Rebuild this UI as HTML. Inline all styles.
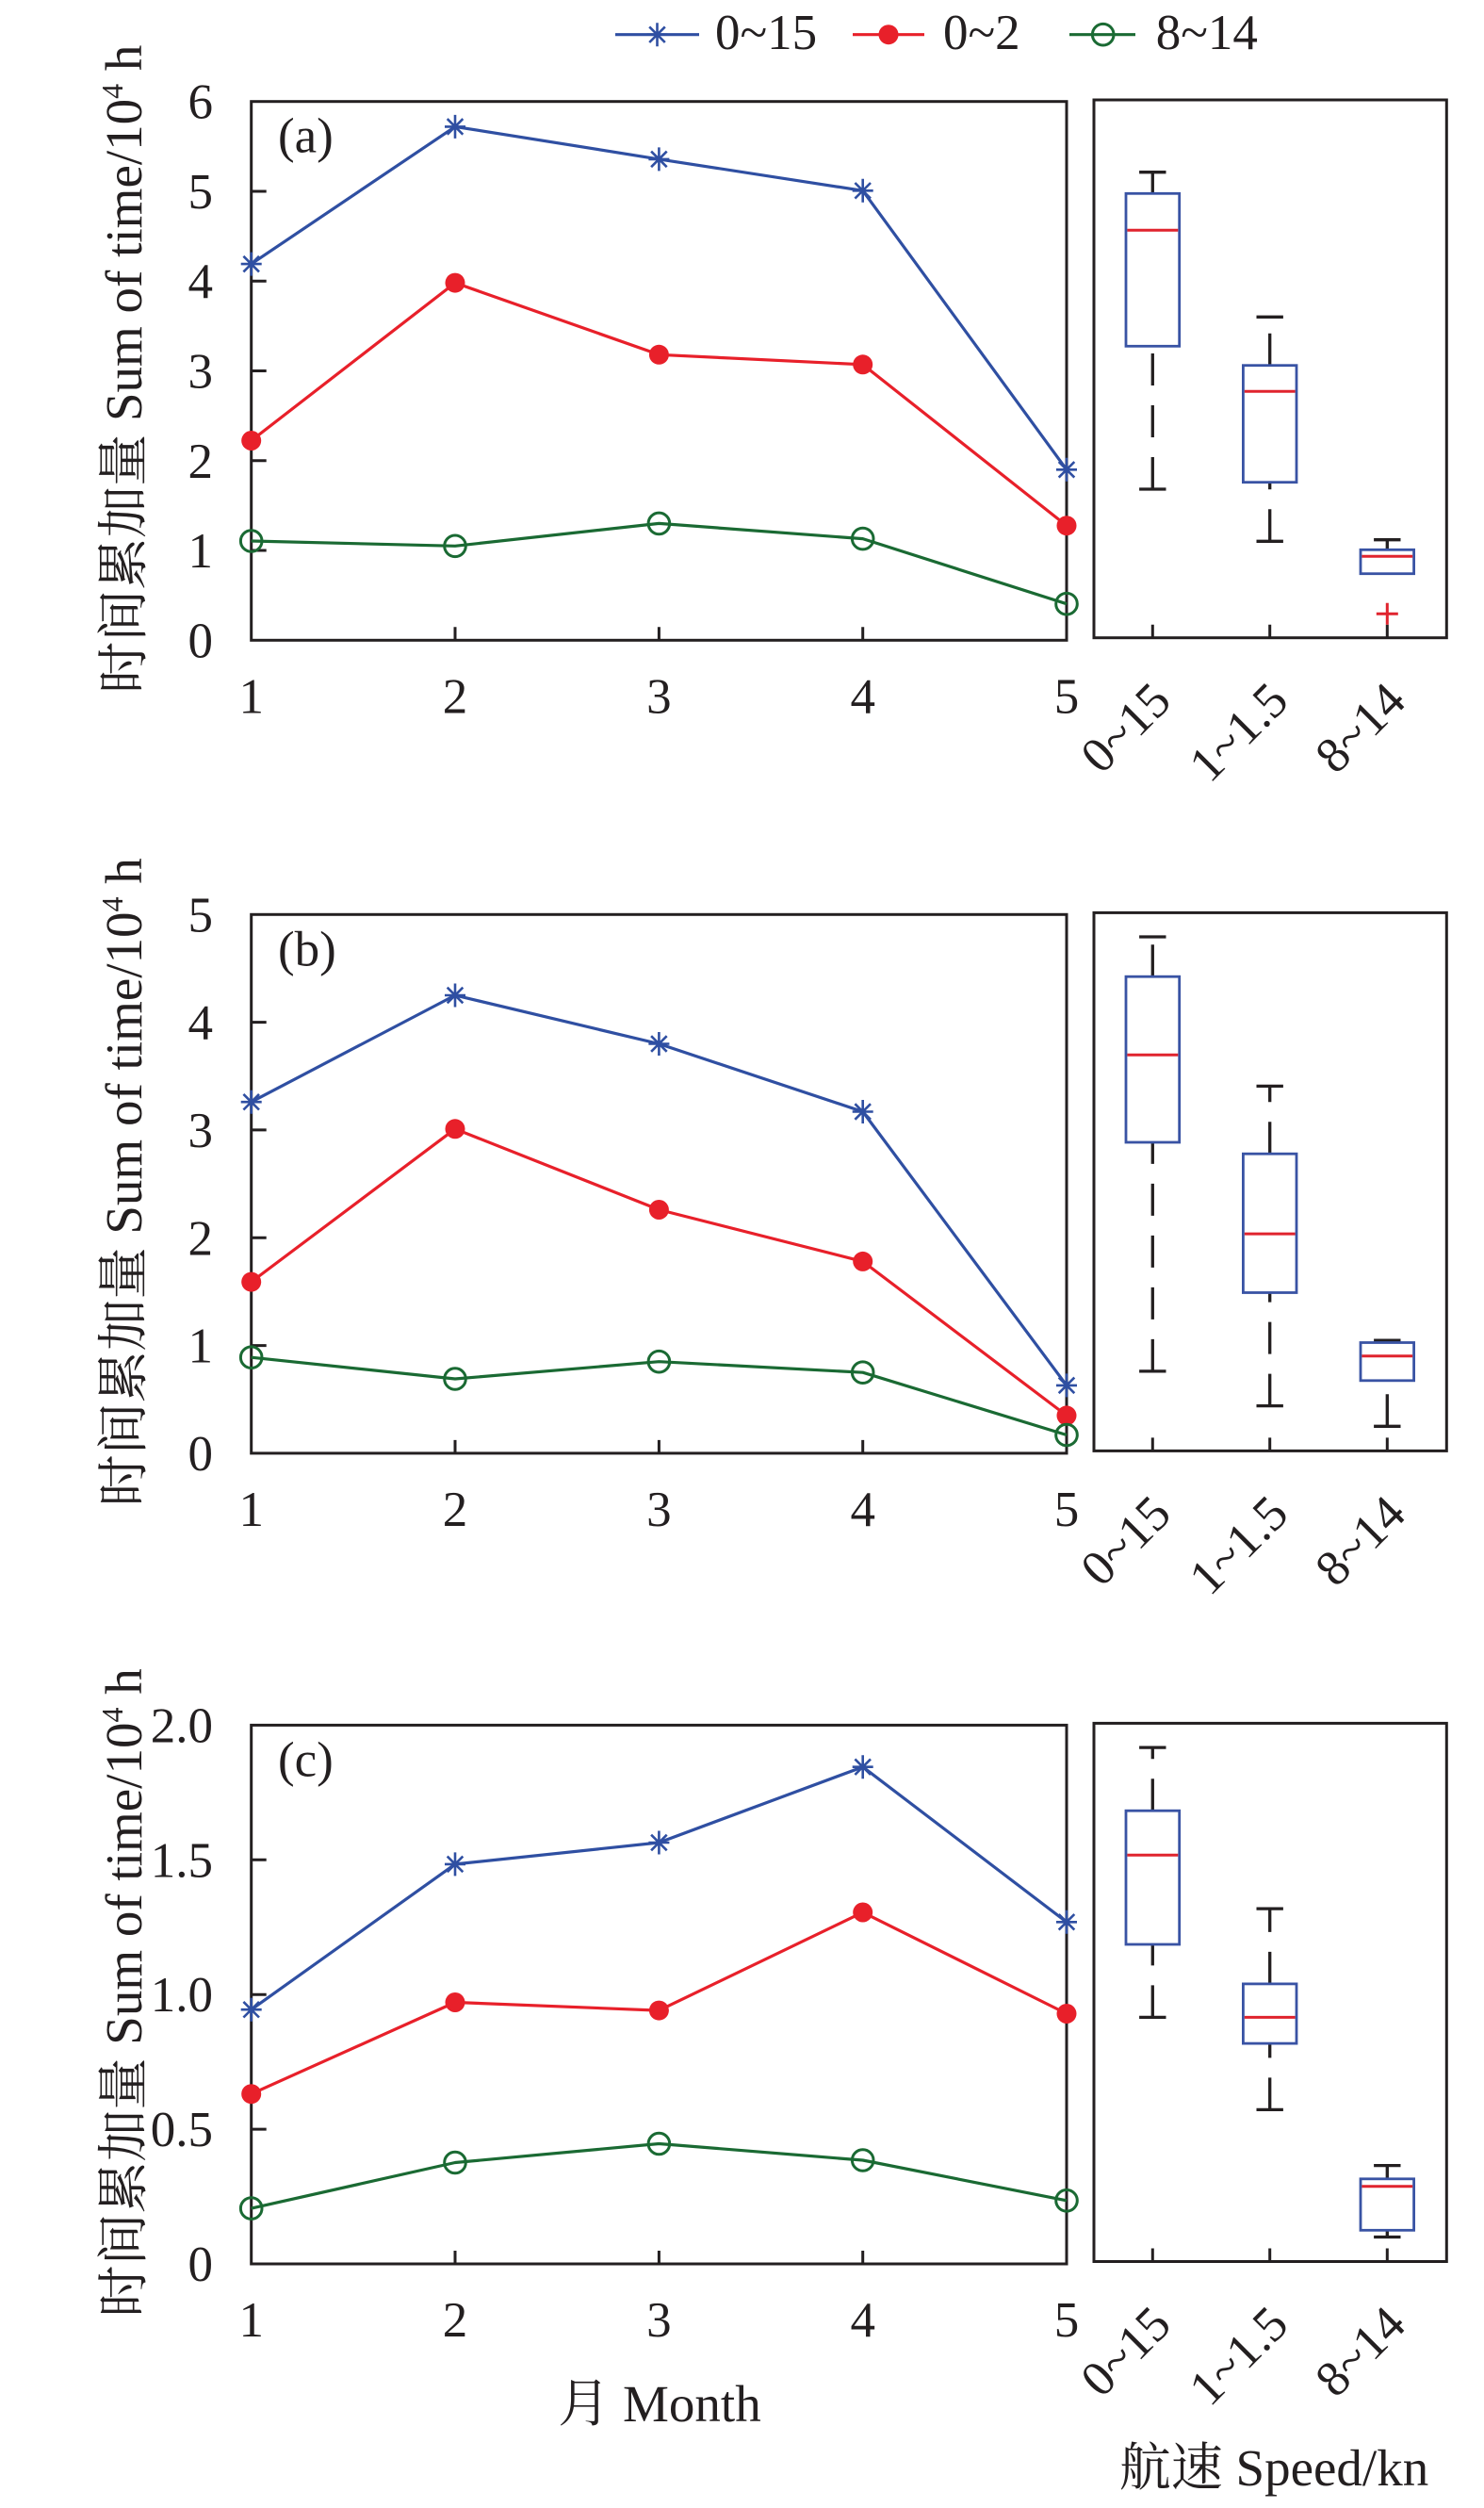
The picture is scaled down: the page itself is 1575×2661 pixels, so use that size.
<!DOCTYPE html>
<html><head><meta charset="utf-8"><style>html,body{margin:0;padding:0;background:#fff}svg{display:block}</style></head><body>
<svg xmlns="http://www.w3.org/2000/svg" width="1575" height="2661" viewBox="0 0 1575 2661" font-family="'Liberation Serif','Noto Serif CJK SC',serif" fill="#231f20">
<defs>
<g id="st"><path d="M0,-12.5V12.5M-11,0H11M-8.3,-8.3L8.3,8.3M-8.3,8.3L8.3,-8.3" stroke="#2f4fa2" stroke-width="2.6" fill="none"/></g>
<circle id="rd" r="10.5" fill="#e8202a"/>
<circle id="gc" r="11.3" fill="none" stroke="#1a6a33" stroke-width="3"/>
</defs>

<!-- Legend -->
<g font-size="53">
<line x1="653" y1="36.7" x2="742" y2="36.7" stroke="#2f4fa2" stroke-width="3.2"/>
<use href="#st" x="697.5" y="36.7"/>
<text x="759" y="52">0~15</text>
<line x1="905" y1="36.7" x2="981" y2="36.7" stroke="#e8202a" stroke-width="3.2"/>
<use href="#rd" x="943" y="36.7"/>
<text x="1001" y="52">0~2</text>
<line x1="1135" y1="36.7" x2="1205" y2="36.7" stroke="#1a6a33" stroke-width="3.2"/>
<use href="#gc" x="1170.7" y="36.7"/>
<text x="1226.7" y="52">8~14</text>
</g>

<!-- ================= Panel (a) ================= -->
<g stroke="#231f20" stroke-width="3" fill="none">
<rect x="266.7" y="107.7" width="865.3" height="571.6"/>
<path d="M266.7,584H282.7M266.7,488.8H282.7M266.7,393.5H282.7M266.7,298.2H282.7M266.7,203H282.7M483,679.3V665.3M699.4,679.3V665.3M915.7,679.3V665.3"/>
<rect x="1161" y="106" width="374.3" height="570.7"/>
<path d="M1223.3,676.7V662.7M1347.7,676.7V662.7M1472.3,676.7V662.7"/>
</g>
<g font-size="53" text-anchor="end">
<text x="226" y="697.3">0</text><text x="226" y="602">1</text><text x="226" y="506.8">2</text><text x="226" y="411.5">3</text><text x="226" y="316.2">4</text><text x="226" y="221">5</text><text x="226" y="125.7">6</text>
</g>
<g font-size="53" text-anchor="middle">
<text x="266.7" y="756.3">1</text><text x="483" y="756.3">2</text><text x="699.4" y="756.3">3</text><text x="915.7" y="756.3">4</text><text x="1132" y="756.3">5</text>
</g>
<text x="295" y="161.7" font-size="53">(a)</text>
<text transform="translate(150,391.7) rotate(-90)" text-anchor="middle" font-size="55">时间累加量 Sum of time/10<tspan dy="-20" font-size="32">4</tspan><tspan dy="20"> h</tspan></text>
<g font-size="53" text-anchor="end">
<text transform="translate(1245.3,746.3) rotate(-45)">0~15</text>
<text transform="translate(1369.7,746.3) rotate(-45)">1~1.5</text>
<text transform="translate(1494.3,746.3) rotate(-45)">8~14</text>
</g>
<g fill="none" stroke-width="3.2" stroke-linejoin="round">
<path d="M266.7,280.1L483,134.4L699.4,168.9L915.7,202.3L1132,498.3" stroke="#2f4fa2"/>
<path d="M266.7,467.5L483,300.1L699.4,376.3L915.7,386.8L1132,557.7" stroke="#e8202a"/>
<path d="M266.7,574L483,579.3L699.4,555.4L915.7,571.6L1132,640.7" stroke="#1a6a33"/>
</g>
<use href="#st" x="266.7" y="280.1"/><use href="#st" x="483" y="134.4"/><use href="#st" x="699.4" y="168.9"/><use href="#st" x="915.7" y="202.3"/><use href="#st" x="1132" y="498.3"/>
<use href="#rd" x="266.7" y="467.5"/><use href="#rd" x="483" y="300.1"/><use href="#rd" x="699.4" y="376.3"/><use href="#rd" x="915.7" y="386.8"/><use href="#rd" x="1132" y="557.7"/>
<use href="#gc" x="266.7" y="574"/><use href="#gc" x="483" y="579.3"/><use href="#gc" x="699.4" y="555.4"/><use href="#gc" x="915.7" y="571.6"/><use href="#gc" x="1132" y="640.7"/>
<!-- boxes (a) -->
<g stroke="#231f20" stroke-width="3.3" fill="none">
<path d="M1223.3,519V367.3M1223.3,205.3V182.7M1347.7,574.3V511.7M1347.7,387.7V336.3M1472.3,583.3V572.7" stroke-dasharray="34 21"/>
<path d="M1209.1,182.7H1237.5M1209.1,519H1237.5M1333.5,336.3H1361.9M1333.5,574.3H1361.9M1458.1,572.7H1486.5"/>
</g>
<g stroke="#3953a4" stroke-width="2.8" fill="none">
<rect x="1195" y="205.3" width="56.7" height="162"/>
<rect x="1319.4" y="387.7" width="56.6" height="124"/>
<rect x="1444" y="583.3" width="56.6" height="25.4"/>
</g>
<g stroke="#e0242e" stroke-width="3" fill="none">
<path d="M1196.4,244.3H1250.3M1320.8,415.3H1374.6M1445.4,590.3H1499.2"/>
<path d="M1460.8,651.3H1483.8M1472.3,639.8V662.8"/>
</g>

<!-- ================= Panel (b) ================= -->
<g stroke="#231f20" stroke-width="3" fill="none">
<rect x="266.7" y="970.3" width="865.3" height="571.6"/>
<path d="M266.7,1427.6H282.7M266.7,1313.3H282.7M266.7,1198.9H282.7M266.7,1084.6H282.7M483,1541.9V1527.9M699.4,1541.9V1527.9M915.7,1541.9V1527.9"/>
<rect x="1161" y="968.4" width="374.3" height="571"/>
<path d="M1223.3,1539.4V1525.4M1347.7,1539.4V1525.4M1472.3,1539.4V1525.4"/>
</g>
<g font-size="53" text-anchor="end">
<text x="226" y="1559.9">0</text><text x="226" y="1445.6">1</text><text x="226" y="1331.3">2</text><text x="226" y="1216.9">3</text><text x="226" y="1102.6">4</text><text x="226" y="988.3">5</text>
</g>
<g font-size="53" text-anchor="middle">
<text x="266.7" y="1618.9">1</text><text x="483" y="1618.9">2</text><text x="699.4" y="1618.9">3</text><text x="915.7" y="1618.9">4</text><text x="1132" y="1618.9">5</text>
</g>
<text x="295" y="1024.3" font-size="53">(b)</text>
<text transform="translate(150,1254.3) rotate(-90)" text-anchor="middle" font-size="55">时间累加量 Sum of time/10<tspan dy="-20" font-size="32">4</tspan><tspan dy="20"> h</tspan></text>
<g font-size="53" text-anchor="end">
<text transform="translate(1245.3,1608.9) rotate(-45)">0~15</text>
<text transform="translate(1369.7,1608.9) rotate(-45)">1~1.5</text>
<text transform="translate(1494.3,1608.9) rotate(-45)">8~14</text>
</g>
<g fill="none" stroke-width="3.2" stroke-linejoin="round">
<path d="M266.7,1169.2L483,1056L699.4,1107.5L915.7,1179.5L1132,1469.9" stroke="#2f4fa2"/>
<path d="M266.7,1360.1L483,1197.8L699.4,1283.5L915.7,1338.4L1132,1501.9" stroke="#e8202a"/>
<path d="M266.7,1440.2L483,1463L699.4,1444.7L915.7,1456.2L1132,1522.5" stroke="#1a6a33"/>
</g>
<use href="#st" x="266.7" y="1169.2"/><use href="#st" x="483" y="1056"/><use href="#st" x="699.4" y="1107.5"/><use href="#st" x="915.7" y="1179.5"/><use href="#st" x="1132" y="1469.9"/>
<use href="#rd" x="266.7" y="1360.1"/><use href="#rd" x="483" y="1197.8"/><use href="#rd" x="699.4" y="1283.5"/><use href="#rd" x="915.7" y="1338.4"/><use href="#rd" x="1132" y="1501.9"/>
<use href="#gc" x="266.7" y="1440.2"/><use href="#gc" x="483" y="1463"/><use href="#gc" x="699.4" y="1444.7"/><use href="#gc" x="915.7" y="1456.2"/><use href="#gc" x="1132" y="1522.5"/>
<g stroke="#231f20" stroke-width="3.3" fill="none">
<path d="M1223.3,1454.9V1212M1223.3,1036.2V994M1347.7,1491.6V1371.5M1347.7,1224.2V1152.4M1472.3,1513.3V1464.8M1472.3,1424.5V1422.1" stroke-dasharray="34 21"/>
<path d="M1209.1,994H1237.5M1209.1,1454.9H1237.5M1333.5,1152.4H1361.9M1333.5,1491.6H1361.9M1458.1,1422.1H1486.5M1458.1,1513.3H1486.5"/>
</g>
<g stroke="#3953a4" stroke-width="2.8" fill="none">
<rect x="1195" y="1036.2" width="56.7" height="175.8"/>
<rect x="1319.4" y="1224.2" width="56.6" height="147.3"/>
<rect x="1444" y="1424.5" width="56.6" height="40.3"/>
</g>
<g stroke="#e0242e" stroke-width="3" fill="none">
<path d="M1196.4,1119.2H1250.3M1320.8,1309.1H1374.6M1445.4,1438.7H1499.2"/>
</g>

<!-- ================= Panel (c) ================= -->
<g stroke="#231f20" stroke-width="3" fill="none">
<rect x="266.7" y="1830.4" width="865.3" height="571.6"/>
<path d="M266.7,2259.1H282.7M266.7,2116.2H282.7M266.7,1973.3H282.7M483,2402V2388M699.4,2402V2388M915.7,2402V2388"/>
<rect x="1161" y="1828.4" width="374.3" height="571.1"/>
<path d="M1223.3,2399.5V2385.5M1347.7,2399.5V2385.5M1472.3,2399.5V2385.5"/>
</g>
<g font-size="53" text-anchor="end">
<text x="226" y="2420">0</text><text x="226" y="2277.1">0.5</text><text x="226" y="2134.2">1.0</text><text x="226" y="1991.3">1.5</text><text x="226" y="1848.4">2.0</text>
</g>
<g font-size="53" text-anchor="middle">
<text x="266.7" y="2479">1</text><text x="483" y="2479">2</text><text x="699.4" y="2479">3</text><text x="915.7" y="2479">4</text><text x="1132" y="2479">5</text>
</g>
<text x="295" y="1884.4" font-size="53">(c)</text>
<text transform="translate(150,2114.4) rotate(-90)" text-anchor="middle" font-size="55">时间累加量 Sum of time/10<tspan dy="-20" font-size="32">4</tspan><tspan dy="20"> h</tspan></text>
<g font-size="53" text-anchor="end">
<text transform="translate(1245.3,2469) rotate(-45)">0~15</text>
<text transform="translate(1369.7,2469) rotate(-45)">1~1.5</text>
<text transform="translate(1494.3,2469) rotate(-45)">8~14</text>
</g>
<g fill="none" stroke-width="3.2" stroke-linejoin="round">
<path d="M266.7,2132.2L483,1977.9L699.4,1955L915.7,1874.7L1132,2039.3" stroke="#2f4fa2"/>
<path d="M266.7,2221.7L483,2124.5L699.4,2133.1L915.7,2029L1132,2136.5" stroke="#e8202a"/>
<path d="M266.7,2343.1L483,2294.5L699.4,2274.5L915.7,2292L1132,2334.8" stroke="#1a6a33"/>
</g>
<use href="#st" x="266.7" y="2132.2"/><use href="#st" x="483" y="1977.9"/><use href="#st" x="699.4" y="1955"/><use href="#st" x="915.7" y="1874.7"/><use href="#st" x="1132" y="2039.3"/>
<use href="#rd" x="266.7" y="2221.7"/><use href="#rd" x="483" y="2124.5"/><use href="#rd" x="699.4" y="2133.1"/><use href="#rd" x="915.7" y="2029"/><use href="#rd" x="1132" y="2136.5"/>
<use href="#gc" x="266.7" y="2343.1"/><use href="#gc" x="483" y="2294.5"/><use href="#gc" x="699.4" y="2274.5"/><use href="#gc" x="915.7" y="2292"/><use href="#gc" x="1132" y="2334.8"/>
<g stroke="#231f20" stroke-width="3.3" fill="none">
<path d="M1223.3,2140.4V2063M1223.3,1921.2V1854.1M1347.7,2238.4V2168.1M1347.7,2104.9V2025.1M1472.3,2373.5V2366.3M1472.3,2311.8V2297.6" stroke-dasharray="34 21"/>
<path d="M1209.1,1854.1H1237.5M1209.1,2140.4H1237.5M1333.5,2025.1H1361.9M1333.5,2238.4H1361.9M1458.1,2297.6H1486.5M1458.1,2373.5H1486.5"/>
</g>
<g stroke="#3953a4" stroke-width="2.8" fill="none">
<rect x="1195" y="1921.2" width="56.7" height="141.8"/>
<rect x="1319.4" y="2104.9" width="56.6" height="63.2"/>
<rect x="1444" y="2311.8" width="56.6" height="54.5"/>
</g>
<g stroke="#e0242e" stroke-width="3" fill="none">
<path d="M1196.4,1968.2H1250.3M1320.8,2140.4H1374.6M1445.4,2319.7H1499.2"/>
</g>

<!-- axis titles -->
<text x="700" y="2569" text-anchor="middle" font-size="55">月 Month</text>
<text x="1352" y="2637" text-anchor="middle" font-size="55">航速 Speed/kn</text>
</svg>
</body></html>
